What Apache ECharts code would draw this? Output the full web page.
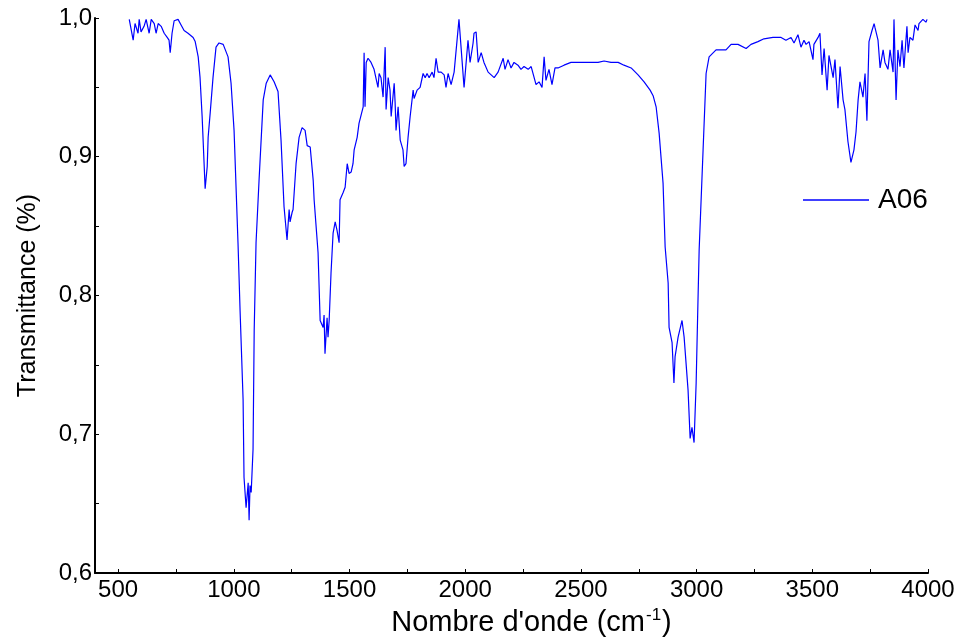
<!DOCTYPE html>
<html>
<head>
<meta charset="utf-8">
<script src="https://cdn.jsdelivr.net/npm/echarts@6/dist/echarts.min.js"></script>
<style>html,body{margin:0;padding:0;background:#fff}#c{width:959px;height:644px}</style>
</head>
<body>
<div id="c"></div>
<script>
const seriesName = 'A06';
const xTickLabels = [500, 1000, 1500, 2000, 2500, 3000, 3500, 4000];
const xTickMarks = [500, 750, 1000, 1250, 1500, 1750, 2000, 2250, 2500, 2750, 3000, 3250, 3500, 3750, 4000];
const yTickLabels = [0.6, 0.7, 0.8, 0.9, 1.0];
const yTickMarks = [0.6, 0.65, 0.7, 0.75, 0.8, 0.85, 0.9, 0.95, 1.0];

const wavenumber = [548,565,573,586,591,599,612,621,634,643,656,664,673,686,699,712,720,725,733,742,759,772,785,802,824,833,846,854,863,872,876,885,889,898,910,923,936,954,975,988,1001,1018,1027,1031,1040,1044,1053,1062,1066,1070,1075,1083,1088,1096,1109,1127,1140,1157,1174,1191,1204,1217,1230,1239,1243,1252,1256,1269,1282,1295,1308,1317,1330,1343,1347,1364,1373,1386,1390,1394,1403,1407,1412,1420,1429,1438,1446,1455,1459,1472,1481,1490,1498,1507,1515,1520,1533,1541,1550,1559,1563,1567,1572,1580,1593,1606,1623,1628,1636,1645,1654,1658,1667,1675,1680,1693,1697,1701,1710,1719,1731,1736,1744,1753,1762,1775,1779,1792,1805,1818,1827,1835,1844,1857,1865,1874,1883,1896,1909,1917,1926,1939,1952,1960,1973,1995,2012,2021,2034,2038,2047,2056,2069,2081,2099,2125,2142,2164,2172,2185,2198,2211,2228,2241,2254,2272,2285,2306,2319,2332,2341,2349,2362,2375,2388,2401,2427,2457,2488,2514,2544,2574,2600,2630,2661,2686,2717,2747,2773,2799,2812,2825,2838,2855,2864,2877,2881,2894,2902,2907,2920,2937,2946,2963,2972,2980,2989,2998,3006,3011,3028,3041,3054,3084,3106,3127,3149,3179,3214,3235,3265,3291,3330,3365,3386,3408,3421,3438,3451,3464,3473,3486,3503,3507,3525,3533,3542,3551,3564,3572,3590,3598,3611,3620,3633,3641,3654,3667,3680,3689,3698,3706,3719,3728,3736,3745,3758,3767,3771,3784,3793,3806,3814,3827,3836,3849,3853,3862,3870,3879,3888,3896,3909,3914,3922,3935,3944,3957,3961,3978,3991,3996];

const transmittance = [0.999,0.984,0.996,0.989,0.999,0.990,0.994,0.999,0.989,0.999,0.996,0.989,0.996,0.994,0.989,0.986,0.984,0.975,0.989,0.998,0.999,0.995,0.991,0.989,0.986,0.983,0.972,0.957,0.929,0.893,0.877,0.893,0.914,0.932,0.957,0.979,0.982,0.981,0.972,0.953,0.919,0.838,0.789,0.788,0.725,0.669,0.647,0.665,0.638,0.663,0.658,0.689,0.775,0.838,0.883,0.941,0.953,0.959,0.954,0.947,0.912,0.864,0.840,0.862,0.853,0.860,0.862,0.895,0.914,0.921,0.919,0.908,0.907,0.883,0.869,0.831,0.782,0.777,0.786,0.758,0.784,0.770,0.782,0.816,0.845,0.853,0.847,0.838,0.869,0.874,0.878,0.895,0.888,0.889,0.895,0.905,0.914,0.924,0.930,0.936,0.975,0.936,0.968,0.971,0.968,0.963,0.950,0.960,0.957,0.943,0.979,0.934,0.957,0.948,0.929,0.953,0.939,0.919,0.936,0.912,0.905,0.893,0.895,0.914,0.929,0.948,0.942,0.948,0.950,0.960,0.957,0.960,0.957,0.961,0.957,0.971,0.961,0.961,0.959,0.950,0.960,0.952,0.961,0.960,0.999,0.950,0.984,0.968,0.982,0.989,0.990,0.968,0.975,0.968,0.961,0.957,0.961,0.971,0.963,0.970,0.964,0.968,0.966,0.963,0.965,0.963,0.965,0.952,0.954,0.950,0.972,0.955,0.963,0.952,0.964,0.964,0.966,0.968,0.968,0.968,0.968,0.968,0.969,0.968,0.968,0.966,0.964,0.959,0.954,0.948,0.944,0.936,0.917,0.881,0.835,0.809,0.777,0.766,0.737,0.756,0.770,0.782,0.770,0.732,0.697,0.705,0.694,0.737,0.797,0.833,0.905,0.960,0.972,0.977,0.977,0.977,0.981,0.981,0.978,0.981,0.983,0.985,0.986,0.986,0.984,0.986,0.982,0.988,0.979,0.984,0.981,0.983,0.970,0.981,0.986,0.989,0.959,0.978,0.948,0.973,0.957,0.970,0.935,0.965,0.941,0.934,0.911,0.896,0.905,0.918,0.941,0.954,0.943,0.960,0.926,0.983,0.991,0.996,0.993,0.984,0.964,0.977,0.968,0.963,0.977,0.961,0.999,0.941,0.977,0.965,0.984,0.964,0.994,0.975,0.986,0.984,0.995,0.991,0.996,0.999,0.997,0.999];

const n = Math.min(wavenumber.length, transmittance.length);
const points = [];
for (let i = 0; i < n; i++) points.push([wavenumber[i], transmittance[i]]);

const FONT = "'Liberation Sans', Arial, sans-serif";
const chart = echarts.init(document.getElementById('c'), null, {renderer: 'canvas'});
chart.setOption({
  animation: false,
  backgroundColor: '#ffffff',
  grid: {left: 95, right: 31, top: 18, bottom: 71, containLabel: false},
  legend: {
    data: [seriesName],
    left: 803, top: 184, padding: 0,
    icon: 'rect', itemWidth: 66, itemHeight: 1.3,
    itemStyle: {color: '#0000ff'},
    textStyle: {fontFamily: FONT, fontSize: 28, color: '#000', lineHeight: 32, padding: [0, 0, 0, 4]}
  },
  xAxis: {
    type: 'value', min: 400, max: 4000,
    name: "{a|Nombre d'onde (cm}{s|-1}{a|)}",
    nameLocation: 'middle', nameGap: 33,
    nameTextStyle: {
      padding: [0, 0, 0, 40],
      rich: {
        a: {fontFamily: FONT, fontSize: 29, color: '#000', lineHeight: 32},
        s: {fontFamily: FONT, fontSize: 17, color: '#000', verticalAlign: 'top', lineHeight: 32, padding: [0, 1, 0, 1]}
      }
    },
    axisLine: {show: true, onZero: false, lineStyle: {color: '#000', width: 2}},
    axisTick: {show: true, inside: true, length: 4, customValues: xTickMarks, lineStyle: {color: '#000', width: 1}},
    axisLabel: {
      customValues: xTickLabels, fontFamily: FONT, fontSize: 24, color: '#000', margin: 5,
      formatter: v => String(v)
    },
    splitLine: {show: false}
  },
  yAxis: {
    type: 'value', min: 0.6, max: 1.0,
    name: 'Transmittance (%)',
    nameLocation: 'middle', nameGap: 54, nameRotate: 90,
    nameTextStyle: {fontFamily: FONT, fontSize: 25, color: '#000'},
    axisLine: {show: true, onZero: false, lineStyle: {color: '#000', width: 2}},
    axisTick: {show: true, inside: true, length: 4, customValues: yTickMarks, lineStyle: {color: '#000', width: 1}},
    axisLabel: {
      customValues: yTickLabels, fontFamily: FONT, fontSize: 24, color: '#000', margin: 3,
      formatter: v => v.toFixed(1).replace('.', ',')
    },
    splitLine: {show: false}
  },
  series: [{
    name: seriesName, type: 'line', data: points,
    symbol: 'none', showSymbol: false,
    lineStyle: {color: '#0000ff', width: 1.2},
    itemStyle: {color: '#0000ff'}
  }]
});
</script>
</body>
</html>
